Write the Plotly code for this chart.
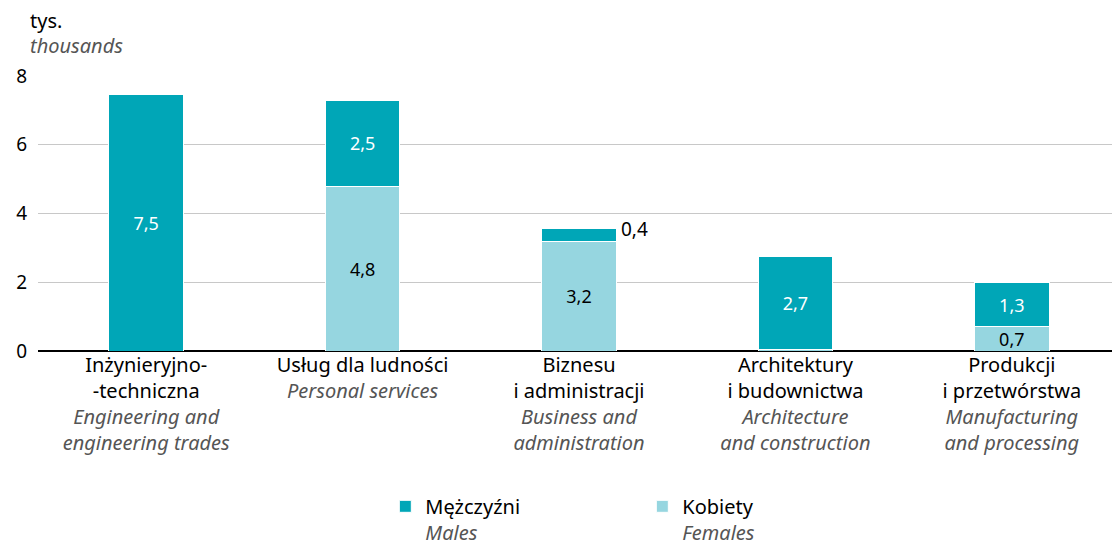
import plotly.graph_objects as go

# fields of education (Polish / English)
categories_pl = ["Inżynieryjno-<br>-techniczna", "Usług dla ludności", "Biznesu<br>i administracji",
                 "Architektury<br>i budownictwa", "Produkcji<br>i przetwórstwa"]
categories_en = ["Engineering and<br>engineering trades", "Personal services", "Business and<br>administration",
                 "Architecture<br>and construction", "Manufacturing<br>and processing"]

# thousands
females = [0.0, 4.8, 3.2, 0.05, 0.7]
males = [7.45, 2.5, 0.36, 2.7, 1.3]

DARK = "#00a6b7"
LIGHT = "#96d6e0"
FONT = "Noto Sans"
GREY = "#555555"

ticktext = [pl + "<br><i><span style='color:%s'>" % GREY
            + en.replace("<br>", "</span></i><br><i><span style='color:%s'>" % GREY) + "</span></i>"
            for pl, en in zip(categories_pl, categories_en)]
xs = list(range(len(categories_pl)))


def fmt(v):
    return f"{v:.1f}".replace(".", ",")


# labels that fit inside the bar segment, tiny ones handled separately
fem_text = [fmt(v) if v >= 0.5 else "" for v in females]
male_text = [fmt(v) if v >= 0.5 else "" for v in males]

fig = go.Figure()
fig.add_trace(go.Bar(x=xs, y=females, name="Kobiety<br><i><span style='color:%s'>Females</span></i>" % GREY,
                     marker=dict(color=LIGHT, line=dict(color="white", width=1)),
                     text=fem_text, textposition="inside", insidetextanchor="middle", constraintext="none",
                     textfont=dict(color="black", size=18, family=FONT), cliponaxis=False))
fig.add_trace(go.Bar(x=xs, y=males, name="Mężczyźni<br><i><span style='color:%s'>Males</span></i>" % GREY,
                     marker=dict(color=DARK, line=dict(color="white", width=1)),
                     text=male_text, textposition="inside", insidetextanchor="middle", constraintext="none",
                     textfont=dict(color="white", size=18, family=FONT), cliponaxis=False))

# small segments get their label beside the bar
for i, v in enumerate(males):
    if 0 < v < 0.5:
        fig.add_annotation(x=xs[i], y=females[i] + v, text=fmt(v), showarrow=False,
                           xanchor="left", yanchor="middle", xshift=40,
                           font=dict(size=19, color="black", family=FONT))

fig.add_annotation(x=0, y=1, xref="paper", yref="paper", xshift=-10, yshift=71,
                   text="tys.", showarrow=False, xanchor="left", yanchor="top",
                   font=dict(size=20, color="black", family=FONT))
fig.add_annotation(x=0, y=1, xref="paper", yref="paper", xshift=-10, yshift=46,
                   text="<i>thousands</i>", showarrow=False, xanchor="left", yanchor="top",
                   font=dict(size=20, color=GREY, family=FONT))

fig.update_layout(
    width=1112, height=538,
    barmode="stack", bargap=0.655,
    separators=", ",
    plot_bgcolor="white", paper_bgcolor="white",
    font=dict(family=FONT, size=18, color="black"),
    margin=dict(l=30, r=0, t=68, b=195),
    showlegend=True,
    legend=dict(orientation="h", x=0.321, xanchor="left", yref="container", y=0.11, yanchor="top",
                traceorder="reversed", entrywidth=212, entrywidthmode="pixels",
                valign="top", font=dict(size=20, family=FONT), itemwidth=30),
)
fig.update_xaxes(tickmode="array", tickvals=xs, ticktext=ticktext, ticks="",
                 showline=False, tickfont=dict(size=20, family=FONT))
fig.update_yaxes(range=[0, 8], dtick=2, showgrid=True, gridcolor="#c8c8c8", gridwidth=1,
                 zeroline=True, zerolinecolor="black", zerolinewidth=1.5,
                 tickfont=dict(size=19, family=FONT), ticklabelstandoff=10)

fig.write_html("out.html")
